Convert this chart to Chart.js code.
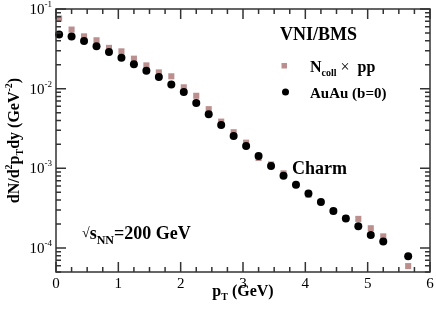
<!DOCTYPE html>
<html>
<head>
<meta charset="utf-8">
<script src="https://cdn.jsdelivr.net/npm/chart.js@4"></script>
<style>
  body { margin: 0; background: #fff; }
  canvas { display: block; }
</style>
</head>
<body>
<canvas id="chartCharm" width="436" height="309"></canvas>
<script>
const chartCharm = document.getElementById('chartCharm');

// p_T bins (GeV)
const pt = [0.05, 0.25, 0.45, 0.65, 0.85, 1.05, 1.25, 1.45, 1.65, 1.85,
  2.05, 2.25, 2.45, 2.65, 2.85, 3.05, 3.25, 3.45, 3.65, 3.85,
  4.05, 4.25, 4.45, 4.65, 4.85, 5.05, 5.25, 5.65];

// AuAu (b=0)
const auau = [0.0478, 0.0451, 0.0398, 0.0340, 0.0289, 0.0245, 0.0202, 0.0168, 0.0140, 0.0113,
  0.00906, 0.00659, 0.00479, 0.00351, 0.00255, 0.00191, 0.00143, 0.00107, 0.000807, 0.000621,
  0.000484, 0.000379, 0.000292, 0.000234, 0.000188, 0.000146, 0.000121, 0.0000786];

// Ncoll x pp
const ncollpp = [0.0759, 0.0552, 0.0454, 0.0405, 0.0325, 0.0294, 0.0238, 0.0196, 0.0160, 0.0143,
  0.0104, 0.00814, 0.00553, 0.00386, 0.00284, 0.00210, 0.00135, 0.00112, 0.000865, 0.000616,
  0.000466, 0.000377, 0.000290, 0.000237, 0.000232, 0.000177, 0.000140, 0.0000593];

const xMajor = [0, 1, 2, 3, 4, 5, 6];
const yDecades = [-4, -3, -2, -1];

const pink = '#bc8f8f';
const serif = '"Liberation Serif", "DejaVu Serif", serif';

function pts(ys) {
  return pt.map((x, i) => ({ x: x, y: ys[i] }));
}

// draw text made of pieces, each with its own size / offset
function rich(ctx, parts, x, y, align) {
  let w = 0;
  parts.forEach(p => { ctx.font = p.f; w += ctx.measureText(p.t).width; });
  let cx = x;
  if (align === 'center') cx = x - w / 2;
  if (align === 'right') cx = x - w;
  ctx.textAlign = 'left';
  ctx.textBaseline = 'alphabetic';
  parts.forEach(p => {
    ctx.font = p.f;
    ctx.fillText(p.t, cx, y + (p.dy || 0));
    cx += ctx.measureText(p.t).width;
  });
}

const frame = {
  id: 'frame',
  afterDraw(chart) {
    const ctx = chart.ctx;
    const a = chart.chartArea;
    const xs = chart.scales.x, ys = chart.scales.y;
    ctx.save();
    ctx.strokeStyle = '#333';
    ctx.fillStyle = '#000';
    ctx.lineWidth = 1.5;
    ctx.strokeRect(a.left, a.top, a.right - a.left, a.bottom - a.top);

    ctx.beginPath();
    // x ticks, every 0.25, long ones at integers
    for (let i = 0; i <= 24; i++) {
      const v = i * 0.25;
      const px = xs.getPixelForValue(v);
      const len = (i % 4 === 0) ? 10 : 5;
      ctx.moveTo(px, a.bottom); ctx.lineTo(px, a.bottom - len);
      ctx.moveTo(px, a.top); ctx.lineTo(px, a.top + len);
    }
    // y ticks
    for (let d = -5; d <= -1; d++) {
      for (let m = 1; m <= 9; m++) {
        const v = m * Math.pow(10, d);
        if (v < ys.min || v > ys.max) continue;
        const py = ys.getPixelForValue(v);
        const len = (m === 1) ? 10 : 5;
        ctx.moveTo(a.left, py); ctx.lineTo(a.left + len, py);
        ctx.moveTo(a.right, py); ctx.lineTo(a.right - len, py);
      }
    }
    ctx.stroke();

    // tick labels
    ctx.textAlign = 'center';
    ctx.textBaseline = 'alphabetic';
    ctx.font = '15px ' + serif;
    xMajor.forEach(v => {
      ctx.fillText(String(v), xs.getPixelForValue(v), 288);
    });
    yDecades.forEach(d => {
      const py = ys.getPixelForValue(Math.pow(10, d));
      rich(ctx, [
        { t: '10', f: '15px ' + serif },
        { t: String(d), f: '9px ' + serif, dy: -7 }
      ], 52, py + 5, 'right');
    });

    const B = s => 'bold ' + s + 'px ' + serif;

    // axis titles
    rich(ctx, [
      { t: 'p', f: B(16) },
      { t: 'T', f: B(10), dy: 4 },
      { t: ' (GeV)', f: B(16) }
    ], (a.left + a.right) / 2, 296, 'center');

    ctx.save();
    ctx.translate(19, (a.top + a.bottom) / 2);
    ctx.rotate(-Math.PI / 2);
    rich(ctx, [
      { t: 'dN/d', f: B(16) },
      { t: '2', f: B(10), dy: -7 },
      { t: 'p', f: B(16) },
      { t: 'T', f: B(10), dy: 4 },
      { t: 'dy (GeV', f: B(16) },
      { t: '-2', f: B(10), dy: -7 },
      { t: ')', f: B(16) }
    ], 0, 0, 'center');
    ctx.restore();

    // annotations
    rich(ctx, [{ t: 'VNI/BMS', f: B(18) }], 280, 40, 'left');
    rich(ctx, [{ t: 'Charm', f: B(18) }], 292, 174, 'left');
    rich(ctx, [
      { t: '\u221A', f: '14px ' + serif, dy: -2 },
      { t: 's', f: B(18) },
      { t: 'NN', f: B(12), dy: 5 },
      { t: '=200 GeV', f: B(18) }
    ], 82, 239, 'left');

    // legend
    ctx.fillStyle = pink;
    ctx.fillRect(281.5, 63, 5.5, 5.5);
    ctx.fillStyle = '#000';
    rich(ctx, [
      { t: 'N', f: B(16) },
      { t: 'coll', f: B(10), dy: 4 },
      { t: ' \u00D7  ', f: '16px ' + serif },
      { t: 'pp', f: B(16) }
    ], 310, 72, 'left');
    ctx.beginPath();
    ctx.arc(285.5, 92, 3.5, 0, Math.PI * 2);
    ctx.fill();
    rich(ctx, [{ t: 'AuAu (b=0)', f: B(15) }], 310, 98, 'left');

    ctx.restore();
  }
};

new Chart(chartCharm, {
  type: 'scatter',
  data: {
    datasets: [
      {
        label: 'AuAu (b=0)',
        data: pts(auau),
        pointStyle: 'circle',
        pointRadius: 4,
        backgroundColor: '#000',
        borderColor: '#000',
        borderWidth: 0,
        clip: false,
      },
      {
        label: 'Ncoll x pp',
        data: pts(ncollpp),
        pointStyle: 'rect',
        pointRadius: 4.3,
        backgroundColor: pink,
        borderColor: pink,
        borderWidth: 0,
        clip: false,
      },
    ],
  },
  options: {
    responsive: false,
    animation: false,
    layout: { padding: { left: 56, top: 9, right: 6, bottom: 37 } },
    plugins: { legend: { display: false }, tooltip: { enabled: false } },
    scales: {
      x: { type: 'linear', min: 0, max: 6, display: false },
      y: { type: 'logarithmic', min: 5e-5, max: 0.1, display: false },
    },
  },
  plugins: [frame],
});
</script>
</body>
</html>
